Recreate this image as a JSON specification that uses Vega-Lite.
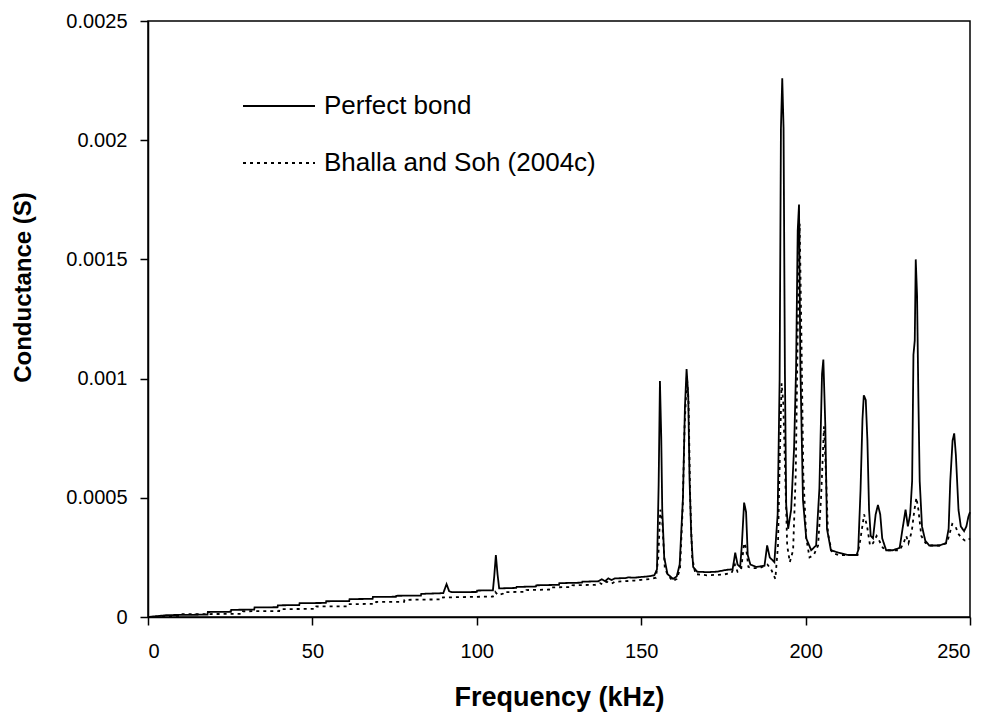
{
  "$schema": "https://vega.github.io/schema/vega-lite/v6.json",
  "width": 822,
  "height": 596,
  "autosize": {"type": "none"},
  "padding": {"left": 148, "top": 21, "right": 23, "bottom": 100},
  "background": "white",
  "config": {"view": {"stroke": "black", "strokeWidth": 1.5}, "font": "Liberation Sans"},
  "datasets": {
    "perfect": [
      {"f":0,"g":0},{"f":3,"g":0.000004},{"f":6,"g":0.000008},{"f":18.1,"g":0.00001},{"f":18.2,"g":0.000021},{"f":25.2,"g":0.000022},{"f":25.3,"g":0.00003},{"f":32.3,"g":0.000031},{"f":32.4,"g":0.00004},{"f":39.4,"g":0.000041},{"f":39.5,"g":0.000049},{"f":46,"g":0.00005},{"f":46.1,"g":0.000058},{"f":54.1,"g":0.000059},{"f":54.2,"g":0.000066},{"f":61.2,"g":0.000067},{"f":61.3,"g":0.000075},{"f":68.3,"g":0.000076},{"f":68.4,"g":0.000084},{"f":75.4,"g":0.000085},{"f":75.5,"g":0.000089},{"f":83,"g":0.00009},{"f":83.1,"g":0.000097},{"f":89.8,"g":0.0001},{"f":90.8,"g":0.000138},{"f":91.6,"g":0.000108},{"f":92.5,"g":0.000104},{"f":100,"g":0.000105},{"f":100.1,"g":0.000111},{"f":104.9,"g":0.000112},
      {"f":105.3,"g":0.00017},{"f":105.8,"g":0.00026},{"f":106.3,"g":0.00018},{"f":106.8,"g":0.00012},{"f":112,"g":0.000122},{"f":112.1,"g":0.000126},{"f":118,"g":0.000128},{"f":118.1,"g":0.000133},{"f":125,"g":0.000135},{"f":125.1,"g":0.000142},{"f":132,"g":0.000144},{"f":132.1,"g":0.000148},{"f":137,"g":0.00015},{"f":138,"g":0.000158},{"f":139,"g":0.00015},{"f":140,"g":0.000162},{"f":141,"g":0.000155},{"f":142,"g":0.000162},{"f":145,"g":0.000163},{"f":146,"g":0.000166},{"f":148,"g":0.000165},{"f":150,"g":0.000168},{"f":152,"g":0.00017},{"f":154,"g":0.000175},
      {"f":154.8,"g":0.0002},{"f":155.3,"g":0.00055},{"f":155.7,"g":0.00099},{"f":156.1,"g":0.00075},{"f":156.4,"g":0.00045},{"f":157,"g":0.00025},{"f":158,"g":0.00018},{"f":159.7,"g":0.00016},{"f":160.8,"g":0.00017},{"f":161.7,"g":0.00022},{"f":162.7,"g":0.0005},{"f":163.3,"g":0.00088},{"f":163.8,"g":0.00104},{"f":164.3,"g":0.00093},{"f":164.7,"g":0.00058},{"f":165.2,"g":0.00035},{"f":165.8,"g":0.00021},{"f":167,"g":0.00019},{"f":170,"g":0.000188},{"f":173,"g":0.00019},{"f":176,"g":0.000198},{"f":177.8,"g":0.0002},{"f":178.6,"g":0.00027},{"f":179.3,"g":0.00022},{"f":180.1,"g":0.00021},{"f":180.6,"g":0.0003},{"f":181.3,"g":0.00048},{"f":181.9,"g":0.00044},{"f":182.4,"g":0.00026},{"f":183.2,"g":0.00022},{"f":185,"g":0.00021},{"f":187.5,"g":0.000215},{"f":188.3,"g":0.0003},{"f":189.1,"g":0.00025},{"f":190.5,"g":0.00023},
      {"f":191.5,"g":0.00043},{"f":192.1,"g":0.001},{"f":192.5,"g":0.00205},{"f":192.9,"g":0.00226},{"f":193.3,"g":0.00205},{"f":193.7,"g":0.00104},{"f":194.1,"g":0.00047},{"f":194.7,"g":0.00037},{"f":195.6,"g":0.00045},{"f":196.5,"g":0.00071},{"f":197.1,"g":0.00104},{"f":197.6,"g":0.00162},{"f":198.0,"g":0.00173},{"f":198.4,"g":0.00106},{"f":199.2,"g":0.00049},{"f":200.2,"g":0.00033},{"f":201.7,"g":0.00028},{"f":203.2,"g":0.0003},{"f":204.2,"g":0.00054},{"f":205,"g":0.00102},{"f":205.4,"g":0.00108},{"f":206,"g":0.0008},{"f":206.5,"g":0.00037},{"f":207.7,"g":0.00028},{"f":210,"g":0.00027},{"f":213,"g":0.00026},{"f":215.5,"g":0.00026},
      {"f":216,"g":0.00028},{"f":216.7,"g":0.00053},{"f":217.3,"g":0.00083},{"f":217.7,"g":0.00093},{"f":218.3,"g":0.00091},{"f":218.8,"g":0.00074},{"f":219.3,"g":0.00045},{"f":219.8,"g":0.00034},{"f":220.5,"g":0.00033},{"f":221.3,"g":0.00043},{"f":222,"g":0.00047},{"f":222.7,"g":0.00043},{"f":223.3,"g":0.00033},{"f":224.5,"g":0.00028},{"f":226.5,"g":0.00028},{"f":228.6,"g":0.00029},{"f":229.6,"g":0.00038},{"f":230.4,"g":0.00045},{"f":231.1,"g":0.00038},{"f":231.8,"g":0.00043},{"f":232.4,"g":0.00057},{"f":232.8,"g":0.0011},{"f":233.2,"g":0.00116},{"f":233.5,"g":0.0015},{"f":233.9,"g":0.00135},{"f":234.3,"g":0.00092},{"f":234.7,"g":0.00057},{"f":235.4,"g":0.00038},{"f":236.4,"g":0.00032},{"f":237.6,"g":0.0003},{"f":240.7,"g":0.0003},{"f":242.7,"g":0.00031},{"f":243.5,"g":0.00037},{"f":244,"g":0.00057},{"f":244.7,"g":0.00074},{"f":245.2,"g":0.00077},{"f":245.7,"g":0.00068},{"f":246.5,"g":0.00045},{"f":247.2,"g":0.00038},{"f":248.2,"g":0.00036},{"f":248.9,"g":0.00038},{"f":249.5,"g":0.00042},{"f":250,"g":0.00044}
    ],
    "bhalla": [
      {"f":0,"g":0},{"f":9.5,"g":0.000005},{"f":9.6,"g":0.000012},{"f":28.8,"g":0.000013},{"f":28.9,"g":0.000024},{"f":39.9,"g":0.000025},{"f":40,"g":0.000033},{"f":51.1,"g":0.000034},{"f":51.2,"g":0.000044},{"f":60.7,"g":0.000045},{"f":60.8,"g":0.000054},{"f":69.3,"g":0.000055},{"f":69.4,"g":0.000063},{"f":77.9,"g":0.000064},{"f":78,"g":0.000072},{"f":89.6,"g":0.000074},{"f":89.7,"g":0.000082},{"f":104.9,"g":0.000086},{"f":105.6,"g":0.000105},{"f":106.4,"g":0.000092},{"f":108,"g":0.000098},{"f":108.1,"g":0.000104},{"f":115,"g":0.000106},{"f":115.1,"g":0.000113},{"f":122,"g":0.000115},{"f":122.1,"g":0.000124},{"f":129,"g":0.000126},{"f":129.1,"g":0.000133},{"f":136,"g":0.000135},{"f":137.5,"g":0.000142},{"f":138.3,"g":0.000136},{"f":139.5,"g":0.000148},{"f":141,"g":0.00014},{"f":142,"g":0.000148},{"f":145,"g":0.00015},{"f":148,"g":0.000153},{"f":150,"g":0.000156},{"f":153,"g":0.00016},{"f":154.5,"g":0.000165},
      {"f":155.2,"g":0.00025},{"f":155.8,"g":0.00045},{"f":156.4,"g":0.0004},{"f":157.2,"g":0.0002},{"f":158.5,"g":0.00017},{"f":159.6,"g":0.00015},{"f":160.8,"g":0.00016},{"f":161.8,"g":0.0002},{"f":162.6,"g":0.00045},{"f":163.2,"g":0.0008},{"f":163.9,"g":0.00101},{"f":164.4,"g":0.0009},{"f":164.9,"g":0.0005},{"f":165.5,"g":0.00025},{"f":166.5,"g":0.00018},{"f":170,"g":0.000175},{"f":175,"g":0.000178},{"f":177.5,"g":0.000185},{"f":178.5,"g":0.00022},{"f":179.3,"g":0.00019},{"f":180.4,"g":0.0002},{"f":181.3,"g":0.00031},{"f":181.9,"g":0.00029},{"f":182.6,"g":0.00021},{"f":183.5,"g":0.000205},{"f":186,"g":0.000205},{"f":188.4,"g":0.00022},{"f":189.5,"g":0.0002},{"f":190.8,"g":0.00016},
      {"f":191.6,"g":0.0003},{"f":192.2,"g":0.0007},{"f":192.7,"g":0.00098},{"f":193.2,"g":0.0009},{"f":193.8,"g":0.0006},{"f":194.4,"g":0.0003},{"f":195.2,"g":0.00023},{"f":196.2,"g":0.00028},{"f":197,"g":0.0006},{"f":197.6,"g":0.0012},{"f":198.2,"g":0.00165},{"f":198.7,"g":0.0012},{"f":199.3,"g":0.0006},{"f":200.2,"g":0.00033},{"f":201.2,"g":0.00025},{"f":202.5,"g":0.00026},{"f":203.8,"g":0.0003},{"f":204.7,"g":0.0005},{"f":205.6,"g":0.0008},{"f":206.2,"g":0.0006},{"f":206.8,"g":0.00035},{"f":208,"g":0.00027},{"f":210,"g":0.00026},{"f":213,"g":0.00026},{"f":215.8,"g":0.00026},
      {"f":216.6,"g":0.00032},{"f":217.8,"g":0.00043},{"f":218.7,"g":0.00038},{"f":219.6,"g":0.0003},{"f":220.5,"g":0.00031},{"f":221.6,"g":0.00034},{"f":222.4,"g":0.00032},{"f":223.5,"g":0.00029},{"f":225,"g":0.00028},{"f":228.6,"g":0.00028},{"f":229.8,"g":0.00031},{"f":230.6,"g":0.00034},{"f":231.3,"g":0.00031},{"f":232.3,"g":0.00036},{"f":233.1,"g":0.00045},{"f":233.7,"g":0.0005},{"f":234.3,"g":0.00045},{"f":235.2,"g":0.00034},{"f":236.5,"g":0.00031},{"f":238,"g":0.0003},{"f":241,"g":0.0003},{"f":243,"g":0.00031},{"f":244,"g":0.00036},{"f":244.6,"g":0.00039},{"f":245.6,"g":0.00038},{"f":246.4,"g":0.00035},{"f":247.5,"g":0.00033},{"f":248.5,"g":0.00032},{"f":249.3,"g":0.00032},{"f":250,"g":0.00033}
    ]
  },
  "encoding": {
    "x": {
      "field": "f", "type": "quantitative",
      "scale": {"domain": [0, 250], "nice": false},
      "axis": {"title": "Frequency (kHz)", "values": [0, 50, 100, 150, 200, 250], "grid": false,
        "domainColor": "black", "domainWidth": 1.5, "tickColor": "black", "tickWidth": 1.5, "tickSize": 8,
        "labelFontSize": 20, "labelColor": "black", "labelPadding": 16, "labelFont": "Liberation Sans",
        "titleFontSize": 27, "titleFontWeight": "bold", "titleColor": "black", "titleFont": "Liberation Sans",
        "titleY": 80, "titleBaseline": "middle"}
    },
    "y": {
      "field": "g", "type": "quantitative",
      "scale": {"domain": [0, 0.0025], "nice": false},
      "axis": {"title": "Conductance (S)", "values": [0, 0.0005, 0.001, 0.0015, 0.002, 0.0025], "format": ".4~f", "grid": false,
        "domainColor": "black", "domainWidth": 1.5, "tickColor": "black", "tickWidth": 1.5, "tickSize": 8,
        "labelFontSize": 20, "labelColor": "black", "labelPadding": 13, "labelFont": "Liberation Sans",
        "titleFontSize": 24, "titleFontWeight": "bold", "titleColor": "black", "titleFont": "Liberation Sans",
        "titleX": -125, "titleY": 266, "titleAngle": 270, "titleBaseline": "middle", "titleAlign": "center"}
    }
  },
  "layer": [
    {
      "data": {"name": "perfect"},
      "mark": {"type": "line", "color": "black", "strokeWidth": 1.8},
      "encoding": {
        "strokeDash": {
          "datum": "Perfect bond", "type": "nominal",
          "scale": {"domain": ["Perfect bond", "Bhalla and Soh (2004c)"], "range": [[1, 0], [3, 4]]},
          "legend": {"orient": "none", "legendX": 94, "legendY": 48, "title": null, "symbolType": "stroke",
            "symbolSize": 5184, "symbolStrokeWidth": 1.8, "symbolStrokeColor": "black",
            "labelFontSize": 26, "labelColor": "black", "labelFont": "Liberation Sans", "labelOffset": 8,
            "labelLimit": 0, "rowPadding": 7}
        }
      }
    },
    {
      "data": {"name": "bhalla"},
      "mark": {"type": "line", "color": "black", "strokeWidth": 1.8},
      "encoding": {
        "strokeDash": {"datum": "Bhalla and Soh (2004c)", "type": "nominal"}
      }
    }
  ]
}
